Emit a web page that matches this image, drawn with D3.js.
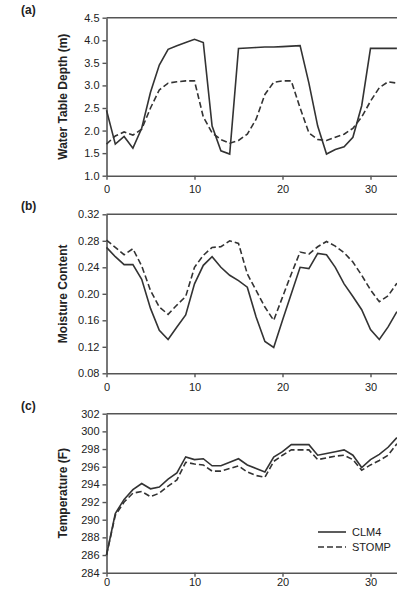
<!DOCTYPE html>
<meta charset="utf-8">
<style>
body { margin: 0; overflow: hidden; background: #fff; }
svg { display: block; }
.tick text { font-family: "Liberation Sans", Arial, sans-serif; font-size: 11px; fill: #222; }
.ttl { font-family: "Liberation Sans", Arial, sans-serif; font-size: 12px; font-weight: bold; fill: #222; }
.lbl { font-family: "Liberation Sans", Arial, sans-serif; font-size: 12px; font-weight: bold; fill: #222; }
.legend text { font-family: "Liberation Sans", Arial, sans-serif; font-size: 11px; fill: #222; }
</style>
<script src="https://d3js.org/d3.v7.min.js"></script>
<div id="chart"></div>
<script>

// time axis (x), shared by all three panels
var days = d3.range(0, 34);
var xTicks = [0, 10, 20, 30];

// (a) water table depth (m)
var wtdCLM4  = [2.45,1.70,1.87,1.61,2.05,2.85,3.45,3.80,3.88,3.95,4.02,3.95,2.10,1.55,1.48,3.82,
                3.83,3.84,3.85,3.85,3.86,3.87,3.88,3.05,2.10,1.48,1.58,1.64,1.85,2.55,3.82,3.82,3.82,3.82];
var wtdSTOMP = [1.70,1.88,1.97,1.90,2.03,2.50,2.90,3.05,3.08,3.10,3.10,2.30,1.95,1.80,1.72,1.78,
                1.92,2.25,2.80,3.07,3.10,3.10,2.50,1.95,1.80,1.78,1.85,1.92,2.05,2.30,2.65,2.95,3.08,3.05];
var wtdTicks = [1.0,1.5,2.0,2.5,3.0,3.5,4.0,4.5];

// (b) moisture content
var mcCLM4  = [0.270,0.256,0.244,0.244,0.222,0.178,0.145,0.131,0.150,0.168,0.215,0.243,0.256,0.240,0.228,0.220,
               0.210,0.165,0.128,0.119,0.160,0.200,0.240,0.238,0.261,0.259,0.240,0.215,0.196,0.176,0.146,0.131,0.150,0.173];
var mcSTOMP = [0.281,0.270,0.259,0.268,0.242,0.205,0.180,0.169,0.183,0.196,0.240,0.258,0.270,0.271,0.280,0.276,
               0.230,0.205,0.180,0.160,0.195,0.230,0.263,0.260,0.271,0.279,0.272,0.262,0.248,0.228,0.206,0.188,0.197,0.216];
var mcTicks = [0.08,0.12,0.16,0.20,0.24,0.28,0.32];

// (c) temperature (F)
var tCLM4  = [286.0,290.7,292.3,293.4,294.1,293.5,293.7,294.6,295.3,297.1,296.8,296.9,296.1,296.1,296.5,296.9,
              296.2,295.8,295.4,297.1,297.7,298.5,298.5,298.5,297.3,297.5,297.7,297.9,297.3,295.9,296.8,297.4,298.2,299.3];
var tSTOMP = [286.0,290.5,292.0,293.0,293.2,292.6,293.0,293.8,294.5,296.5,296.3,296.2,295.5,295.5,295.8,296.1,
              295.4,295.0,294.8,296.6,297.3,297.9,297.9,297.9,296.8,297.0,297.2,297.3,296.8,295.6,296.2,296.7,297.3,298.6];
var tTicks = d3.range(284, 303, 2);

var seriesNames = ["CLM4", "STOMP"];

var W = 397, H = 591;
var svg = d3.select("#chart").append("svg")
    .attr("width", W)
    .attr("height", H);

// the plot runs on past the right edge of the picture
var x = d3.scaleLinear().domain([0, 40]).range([106.5, 458.5]);

function panel(label, title, top, bottom, domain, ticks, fmt, clm, stomp, xPad) {
  var y = d3.scaleLinear().domain(domain).range([bottom, top]);
  var g = svg.append("g");

  // top frame line
  g.append("line")
    .attr("x1", x(0)).attr("x2", W + 5)
    .attr("y1", top).attr("y2", top)
    .attr("stroke", "#555").attr("stroke-width", 1.6);

  var yAxis = g.append("g")
    .attr("transform", "translate(" + x(0) + ",0)")
    .call(d3.axisLeft(y).tickValues(ticks).tickFormat(fmt).tickSize(4).tickSizeOuter(0).tickPadding(3));
  var xAxis = g.append("g")
    .attr("transform", "translate(0," + bottom + ")")
    .call(d3.axisBottom(x).tickValues(xTicks).tickFormat(d3.format("d")).tickSize(4).tickSizeOuter(0).tickPadding(xPad));
  [xAxis, yAxis].forEach(function(a) {
    a.select(".domain").attr("stroke", "#555").attr("stroke-width", 1.6);
    a.selectAll(".tick line").attr("stroke", "#555").attr("stroke-width", 1.4);
  });

  var line = d3.line()
    .x(function(d, i) { return x(days[i]); })
    .y(function(d) { return y(d); });

  g.append("path").datum(clm)
    .attr("d", line).attr("fill", "none")
    .attr("stroke", "#333").attr("stroke-width", 1.6);
  g.append("path").datum(stomp)
    .attr("d", line).attr("fill", "none")
    .attr("stroke", "#333").attr("stroke-width", 1.6)
    .attr("stroke-dasharray", "6,3");

  g.append("text").attr("class", "ttl")
    .attr("transform", "translate(67," + ((top + bottom) / 2) + ") rotate(-90)")
    .attr("text-anchor", "middle")
    .text(title);

  g.append("text").attr("class", "lbl")
    .attr("x", 21).attr("y", top - 4)
    .text(label);

  return y;
}

panel("(a)", "Water Table Depth (m)", 17.7, 175.7, [1.0, 4.5], wtdTicks, d3.format(".1f"), wtdCLM4, wtdSTOMP, 6);
panel("(b)", "Moisture Content", 214.3, 373.3, [0.08, 0.32], mcTicks, d3.format(".2f"), mcCLM4, mcSTOMP, 6);
panel("(c)", "Temperature (F)", 413.7, 572.7, [284, 302], tTicks, d3.format("d"), tCLM4, tSTOMP, 2);

// legend
var legend = svg.append("g").attr("class", "legend")
  .selectAll("g")
  .data(seriesNames)
  .enter().append("g")
    .attr("transform", function(d, i) { return "translate(318," + (532 + i * 15) + ")"; });

legend.append("line")
  .attr("x1", 0).attr("x2", 28)
  .attr("stroke", "#333").attr("stroke-width", 1.6)
  .attr("stroke-dasharray", function(d, i) { return i ? "6,3" : null; });

legend.append("text")
  .attr("x", 34).attr("dy", "0.35em")
  .text(function(d) { return d; });

</script>
